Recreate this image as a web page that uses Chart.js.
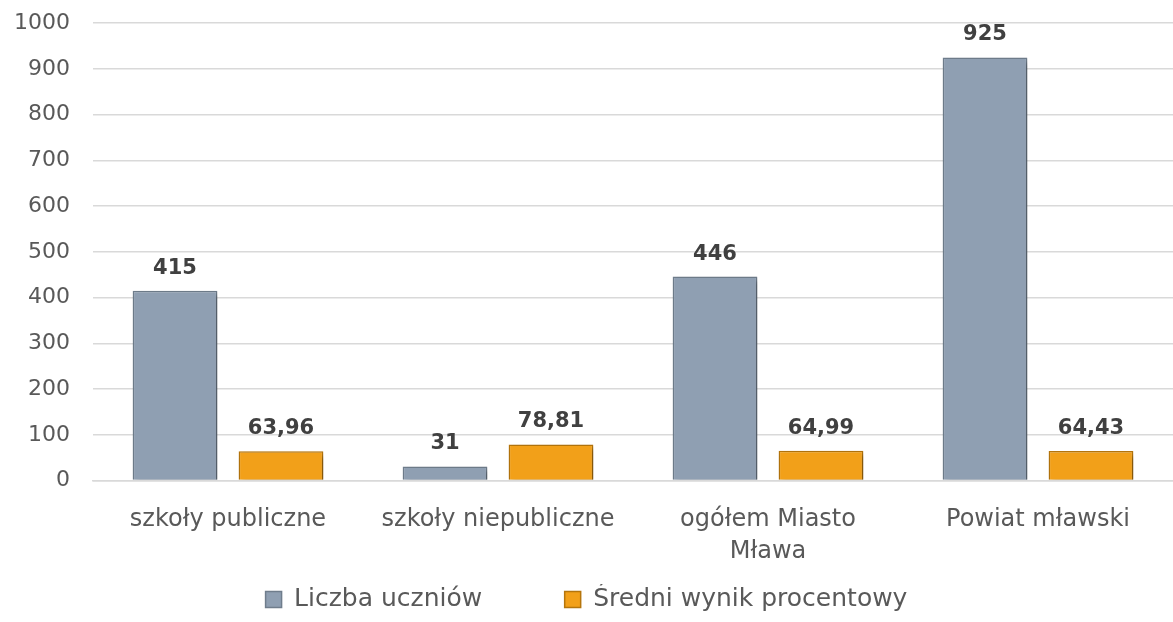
<!DOCTYPE html>
<html>
<head>
<meta charset="utf-8">
<script src="https://cdn.jsdelivr.net/npm/chart.js@4"></script>
<style>
  html, body { margin: 0; padding: 0; background: #fff; }
  #wrap { width: 1173px; height: 622px; }
</style>
</head>
<body>
<div id="wrap"><canvas id="chart"></canvas></div>
<script>
const categories = ['szkoły publiczne', 'szkoły niepubliczne', ['ogółem Miasto', 'Mława'], 'Powiat mławski'];
const liczbaUczniow = [415, 31, 446, 925];
const sredniWynik = [63.96, 78.81, 64.99, 64.43];
const seriesNames = ['Liczba uczniów', 'Średni wynik procentowy'];
const yTicks = [0, 100, 200, 300, 400, 500, 600, 700, 800, 900, 1000];

const FONT = "'DejaVu Sans', sans-serif";
Chart.defaults.font.family = FONT;
Chart.defaults.color = '#595959';

// cień pod słupkami
const barShadow = {
    id: 'barShadow',
    beforeDatasetDraw(chart) {
        const c = chart.ctx;
        c.save();
        c.shadowColor = 'rgba(0,0,0,0.3)';
        c.shadowBlur = 5;
        c.shadowOffsetX = 3;
        c.shadowOffsetY = 3;
    },
    afterDatasetDraw(chart) {
        chart.ctx.restore();
    }
};

// etykiety wartości nad słupkami
const valueLabels = {
    id: 'valueLabels',
    afterDatasetsDraw(chart) {
        const c = chart.ctx;
        c.save();
        c.font = 'bold 21px ' + FONT;
        c.fillStyle = '#404040';
        c.textAlign = 'center';
        c.textBaseline = 'bottom';
        chart.data.datasets.forEach((ds, i) => {
            chart.getDatasetMeta(i).data.forEach((bar, j) => {
                const v = ds.data[j];
                const txt = Number.isInteger(v) ? String(v) : v.toFixed(2).replace('.', ',');
                c.fillText(txt, bar.x, bar.y - 12);
            });
        });
        c.restore();
    }
};

new Chart(document.getElementById('chart'), {
    type: 'bar',
    data: {
        labels: categories,
        datasets: [
            {
                label: seriesNames[0], data: liczbaUczniow,
                backgroundColor: '#8f9fb2', borderColor: '#6f7d8c', borderWidth: 1.5,
                categoryPercentage: 0.785, barPercentage: 0.8
            },
            {
                label: seriesNames[1], data: sredniWynik,
                backgroundColor: '#f2a019', borderColor: '#b5750c', borderWidth: 1.5,
                categoryPercentage: 0.785, barPercentage: 0.8
            }
        ]
    },
    options: {
        responsive: true, maintainAspectRatio: false, animation: false,
        layout: { padding: 0 },
        plugins: {
            legend: {
                position: 'bottom',
                labels: {
                    boxWidth: 16, boxHeight: 16, padding: 3,
                    font: { size: 25, lineHeight: 1.0 }, color: '#595959',
                    generateLabels: chart => {
                        const items = Chart.defaults.plugins.legend.labels.generateLabels(chart);
                        items[0].text += '          ';
                        return items;
                    }
                }
            },
            tooltip: { enabled: false }
        },
        scales: {
            x: {
                grid: { display: false },
                border: { color: '#d9d9d9', width: 1.5 },
                afterFit: s => { s.height += 1; },
                ticks: { font: { size: 24, lineHeight: 1.3 }, color: '#595959', padding: 16, maxRotation: 0 }
            },
            y: {
                min: 0, max: 1000,
                afterBuildTicks: s => { s.ticks = yTicks.map(v => ({ value: v })); },
                afterFit: s => { s.width = 93; },
                grid: { color: '#d9d9d9', lineWidth: 1.5, drawTicks: false },
                border: { display: false },
                ticks: { font: { size: 22, lineHeight: 0.01 }, color: '#595959', padding: 23, callback: v => String(v) }
            }
        }
    },
    plugins: [barShadow, valueLabels]
});
</script>
</body>
</html>
